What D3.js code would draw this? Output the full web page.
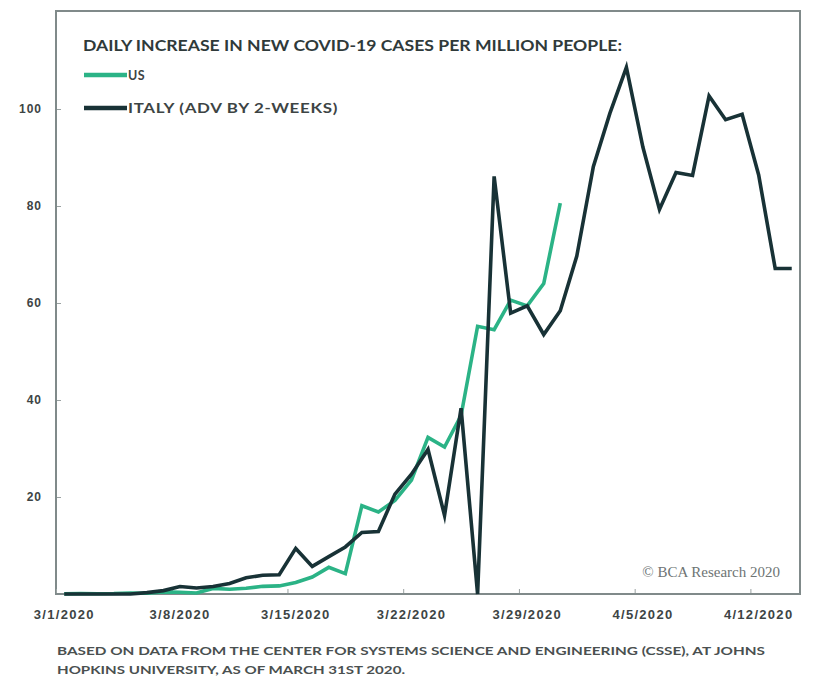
<!DOCTYPE html>
<html>
<head>
<meta charset="utf-8">
<script src="https://cdn.jsdelivr.net/npm/d3@7"></script>
<style>
  html, body { margin: 0; padding: 0; background: #fff; }
  svg { display: block; font-family: Lato, "Open Sans", sans-serif; }
</style>
</head>
<body>
<svg id="chart" width="814" height="678"></svg>
<script>
// Daily categories on the horizontal axis
const dates = [
  "3/1/2020","3/2/2020","3/3/2020","3/4/2020","3/5/2020","3/6/2020","3/7/2020",
  "3/8/2020","3/9/2020","3/10/2020","3/11/2020","3/12/2020","3/13/2020","3/14/2020",
  "3/15/2020","3/16/2020","3/17/2020","3/18/2020","3/19/2020","3/20/2020","3/21/2020",
  "3/22/2020","3/23/2020","3/24/2020","3/25/2020","3/26/2020","3/27/2020","3/28/2020",
  "3/29/2020","3/30/2020","3/31/2020","4/1/2020","4/2/2020","4/3/2020","4/4/2020",
  "4/5/2020","4/6/2020","4/7/2020","4/8/2020","4/9/2020","4/10/2020","4/11/2020",
  "4/12/2020","4/13/2020","4/14/2020"
];

// New cases per million people, per day
const usValues = [
  0.02, 0.07, 0.06, 0.09, 0.21, 0.14, 0.43, 0.35, 0.2, 1.15, 0.98, 1.17, 1.58, 1.67,
  2.36, 3.5, 5.5, 4.2, 18.2, 16.9, 19.3, 23.5, 32.3, 30.3, 36.8, 55.2, 54.5, 60.6,
  59.4, 64.0, 80.6
];
// Italy, shifted forward by two weeks
const italyValues = [
  0, 0, 0, 0, 0, 0.28, 0.7, 1.54, 1.23, 1.54, 2.17, 3.34, 3.86, 3.97,
  9.4, 5.7, 7.7, 9.7, 12.7, 12.9, 20.6, 24.7, 29.8, 16.2, 38.3, 0, 86.1, 57.9,
  59.4, 53.5, 58.4, 69.7, 88.1, 99.1, 108.6, 92.1, 79.3, 86.9, 86.3, 102.7, 97.8,
  98.9, 86.4, 67.1, 67.1
];

const yTicks = [20, 40, 60, 80, 100];
const xTickLabels = ["3/1/2020","3/8/2020","3/15/2020","3/22/2020","3/29/2020","4/5/2020","4/12/2020"];
const seriesNames = ["US", "ITALY (ADV BY 2-WEEKS)"];
const seriesColors = ["#2bb386", "#183236"];
const titleText = "DAILY INCREASE IN NEW COVID-19 CASES PER MILLION PEOPLE:";
const noteLines = [
  "BASED ON DATA FROM THE CENTER FOR SYSTEMS SCIENCE AND ENGINEERING (CSSE), AT JOHNS",
  "HOPKINS UNIVERSITY, AS OF MARCH 31ST 2020."
];
const creditText = "\u00A9 BCA Research 2020";

const svg = d3.select("#chart");
const plot = { left: 56, right: 800, top: 11, bottom: 594 };
const frameColor = "#808a8a";
const textColor = "#3d4444";

// Category band per day; points sit in the middle of each band
const x = d3.scaleBand().domain(dates).range([plot.left, plot.right]);
const xMid = d => x(d) + x.bandwidth() / 2;
// Band edges for the weekly tick marks
const xEdge = d3.scaleLinear().domain([0, dates.length]).range([plot.left, plot.right]);
const y = d3.scaleLinear().domain([0, 120]).range([plot.bottom, 12]);

// Frame: top and right edges
svg.append("path")
  .attr("d", `M${plot.left},${plot.top}H${plot.right}V${plot.bottom}`)
  .attr("fill", "none")
  .attr("stroke", frameColor)
  .attr("stroke-width", 2);

// Left axis
const yAxis = svg.append("g")
  .attr("transform", `translate(${plot.left},0)`)
  .call(d3.axisLeft(y).tickValues(yTicks).tickSize(-5).tickPadding(14));
yAxis.select(".domain").remove();
yAxis.selectAll(".tick line").attr("stroke", "#9aa2a2").attr("stroke-width", 1);
yAxis.selectAll(".tick text")
  .attr("fill", textColor)
  .attr("font-size", 12)
  .attr("font-weight", 700)
  .attr("letter-spacing", "1px");
svg.append("line")
  .attr("x1", plot.left).attr("x2", plot.left)
  .attr("y1", plot.top - 1).attr("y2", plot.bottom)
  .attr("stroke", frameColor).attr("stroke-width", 2);

// Bottom axis: weekly tick marks on band edges
const weekEdges = d3.range(0, dates.length, 7);
const xAxisTicks = svg.append("g")
  .attr("transform", `translate(0,${plot.bottom})`)
  .call(d3.axisBottom(xEdge).tickValues(weekEdges).tickSize(-5).tickFormat(""));
xAxisTicks.select(".domain").remove();
xAxisTicks.selectAll(".tick line").attr("stroke", "#9aa2a2");

// Bottom axis labels, centred on their day
const xAxisLabels = svg.append("g")
  .attr("transform", `translate(0,${plot.bottom})`)
  .call(d3.axisBottom(x).tickValues(xTickLabels).tickSize(0).tickPadding(16));
xAxisLabels.select(".domain").remove();
xAxisLabels.selectAll(".tick text")
  .attr("fill", textColor)
  .attr("font-size", 13)
  .attr("font-weight", 700)
  .attr("letter-spacing", "1.3px");

svg.append("line")
  .attr("x1", plot.left - 1).attr("x2", plot.right + 1)
  .attr("y1", plot.bottom).attr("y2", plot.bottom)
  .attr("stroke", frameColor).attr("stroke-width", 2);

// Series lines
const line = d3.line()
  .x((d, i) => xMid(dates[i]))
  .y(d => y(d));

[usValues, italyValues].forEach((vals, k) => {
  svg.append("path")
    .datum(vals)
    .attr("d", line)
    .attr("fill", "none")
    .attr("stroke", seriesColors[k])
    .attr("stroke-width", 3.6)
    .attr("stroke-linejoin", "miter")
    .attr("stroke-miterlimit", 6);
});

// Title
svg.append("text")
  .attr("x", 83).attr("y", 51)
  .attr("fill", "#2f3a3a")
  .attr("font-size", 14.5)
  .attr("font-weight", 700)
  .attr("textLength", 539)
  .attr("lengthAdjust", "spacingAndGlyphs")
  .text(titleText);

// Legend
const legendY = [75, 108];
const legendWidth = [null, 210];
seriesNames.forEach((name, k) => {
  svg.append("line")
    .attr("x1", 84).attr("x2", 127)
    .attr("y1", legendY[k]).attr("y2", legendY[k])
    .attr("stroke", seriesColors[k])
    .attr("stroke-width", 4.5);
  const t = svg.append("text")
    .attr("x", 128).attr("y", legendY[k] + 5)
    .attr("fill", textColor)
    .attr("font-size", 12.5)
    .attr("font-weight", 700)
    .attr("letter-spacing", "0.5px")
    .text(name);
  if (legendWidth[k]) t.attr("textLength", legendWidth[k]).attr("lengthAdjust", "spacingAndGlyphs");
});

// Credit
svg.append("text")
  .attr("x", 780).attr("y", 577)
  .attr("text-anchor", "end")
  .attr("fill", "#6e7474")
  .attr("font-family", "'Liberation Serif', 'DejaVu Serif', serif")
  .attr("font-size", 15)
  .text(creditText);

// Source note
const noteWidths = [708, 348];
noteLines.forEach((s, i) => {
  svg.append("text")
    .attr("x", 57).attr("y", 655 + i * 19)
    .attr("fill", "#4a5050")
    .attr("font-size", 11.5)
    .attr("font-weight", 700)
    .attr("textLength", noteWidths[i])
    .attr("lengthAdjust", "spacingAndGlyphs")
    .text(s);
});
</script>
</body>
</html>
